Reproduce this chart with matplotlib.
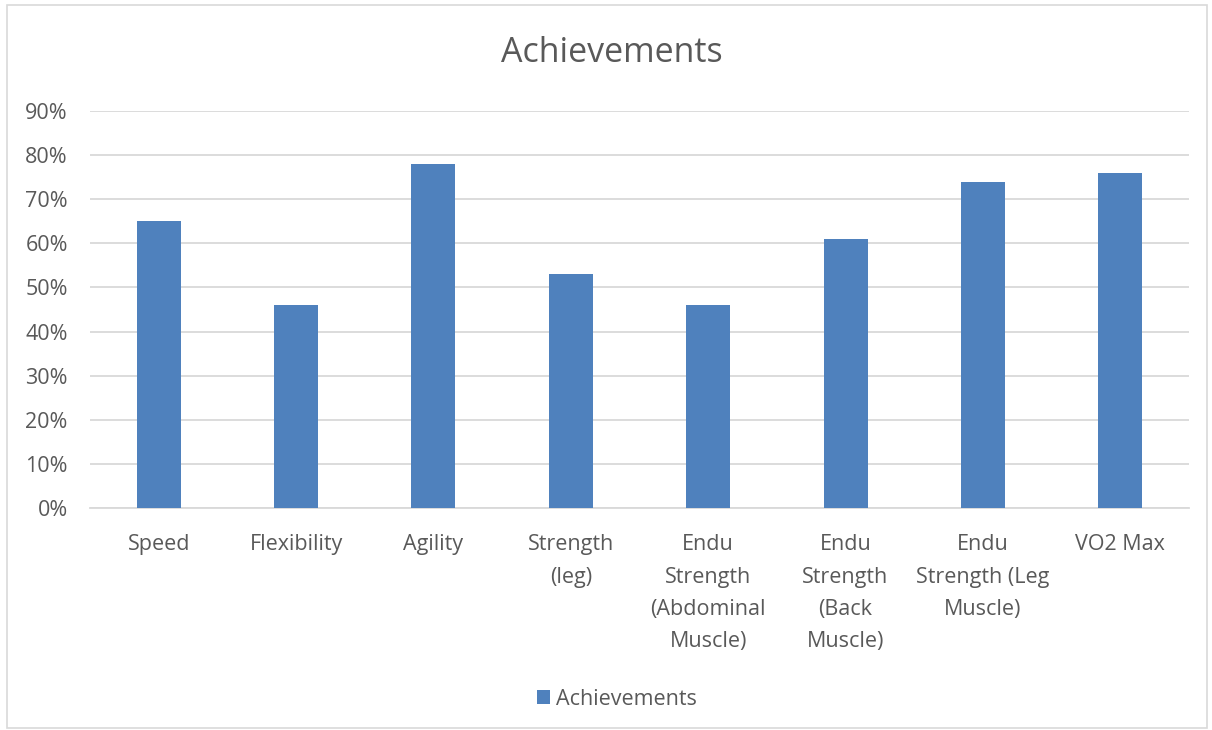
import matplotlib.pyplot as plt
from matplotlib.patches import Rectangle
from matplotlib.ticker import PercentFormatter

# Data
categories = ['Speed', 'Flexibility', 'Agility', 'Strength\n(leg)',
              'Endu\nStrength\n(Abdominal\nMuscle)', 'Endu\nStrength\n(Back\nMuscle)',
              'Endu\nStrength (Leg\nMuscle)', 'VO2 Max']
achievements = [0.65, 0.46, 0.78, 0.53, 0.46, 0.61, 0.74, 0.76]

text_color = '#595959'
bar_color = '#4f81bd'
plt.rcParams['font.family'] = ['Open Sans', 'DejaVu Sans']

fig = plt.figure(figsize=(12.12, 7.3), dpi=100)
ax = fig.add_axes([0.0743, 0.304, 0.9067, 0.544])

x = range(len(categories))
ax.bar(x, achievements, width=0.32, color=bar_color, label='Achievements', zorder=3)

ax.set_ylim(0, 0.9)
ax.set_xlim(-0.5, len(categories) - 0.5)
ax.set_yticks([i / 10 for i in range(10)])
ax.yaxis.set_major_formatter(PercentFormatter(1.0, decimals=0))
ax.grid(axis='y', color='#d9d9d9', linewidth=1.3, zorder=0)
ax.set_xticks(list(x))
ax.set_xticklabels(categories, linespacing=1.7, va='top')
ax.tick_params(axis='both', length=0, labelsize=15.5, colors=text_color)
ax.tick_params(axis='x', pad=19)
ax.tick_params(axis='y', pad=16)
for s in ['top', 'right', 'left']:
    ax.spines[s].set_visible(False)
ax.spines['bottom'].set_color('#d9d9d9')
ax.spines['bottom'].set_linewidth(1.3)

fig.text(0.505, 0.928, 'Achievements', ha='center', va='center', fontsize=24.5, color=text_color)

fig.legend(loc='center', bbox_to_anchor=(0.509, 0.042), frameon=False, fontsize=15.5,
           labelcolor=text_color, handlelength=0.6, handleheight=0.6, handletextpad=0.3)

# chart border
fig.patches.append(Rectangle((0.006, 0.003), 0.99, 0.99, transform=fig.transFigure,
                             fill=False, edgecolor='#d9d9d9', linewidth=1.2))

fig.savefig('out.png', dpi=100)
